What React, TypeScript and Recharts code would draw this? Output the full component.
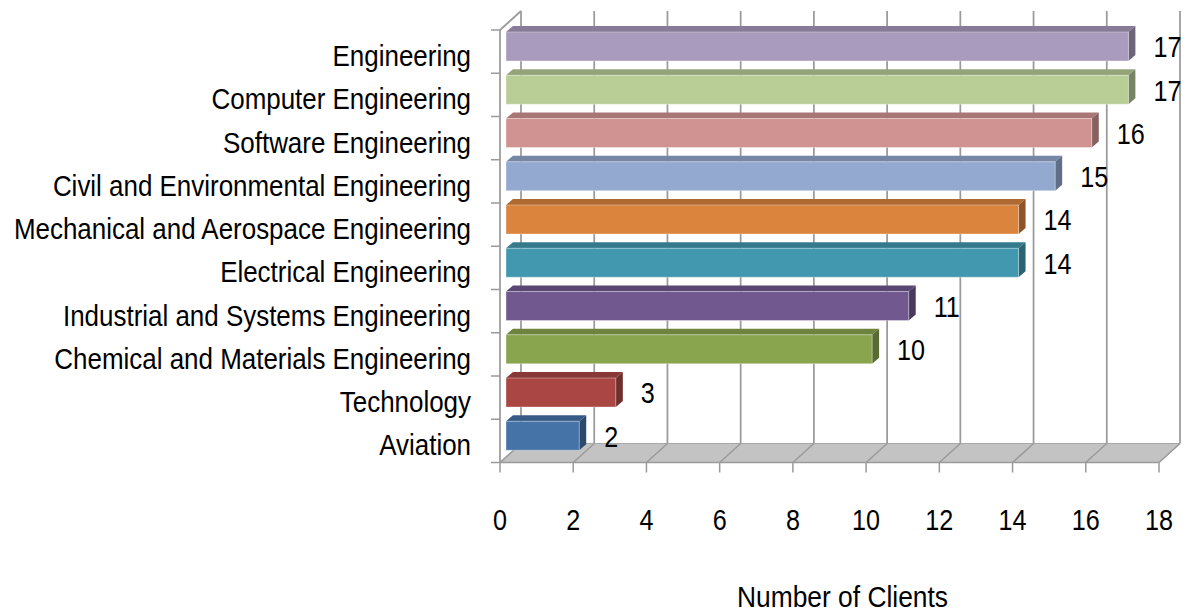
import React from 'react';
import { BarChart, Bar, XAxis, YAxis, ReferenceArea, LabelList } from 'recharts';

const categories = [
  'Engineering',
  'Computer Engineering',
  'Software Engineering',
  'Civil and Environmental Engineering',
  'Mechanical and Aerospace Engineering',
  'Electrical Engineering',
  'Industrial and Systems Engineering',
  'Chemical and Materials Engineering',
  'Technology',
  'Aviation',
];
const clients = [17, 17, 16, 15, 14, 14, 11, 10, 3, 2];
const barColors = [
  '#A99BBD', '#B9CD96', '#D19392', '#93A9CF', '#DB843D',
  '#4198AF', '#71588F', '#89A54E', '#AA4643', '#4572A7',
];
const xTicks = [0, 2, 4, 6, 8, 10, 12, 14, 16, 18];

const data = categories.map((name, i) => ({ name, value: clients[i] }));

const FONT = '"Liberation Sans", Arial, sans-serif';
// 3D depth of the walls/floor, and of the bars inside it
const WALL_DX = 21;
const WALL_DY = -19;
const BAR_FX = 6;
const BAR_FY = -5;
const BAR_DX = 7;
const BAR_DY = -6;
const GRID = '#9a9a9a';

function shade(hex: string, f: number): string {
  const n = parseInt(hex.slice(1), 16);
  const r = Math.round(((n >> 16) & 255) * f);
  const g = Math.round(((n >> 8) & 255) * f);
  const b = Math.round((n & 255) * f);
  return `rgb(${r},${g},${b})`;
}

function Bar3D(props: any) {
  const { x, y, width, height, index } = props;
  const c = barColors[index] || '#888';
  const fx = x + BAR_FX;
  const fy = y + BAR_FY;
  const w = width;
  const h = height;
  return (
    <g>
      <polygon
        points={`${fx},${fy} ${fx + BAR_DX},${fy + BAR_DY} ${fx + w + BAR_DX},${fy + BAR_DY} ${fx + w},${fy}`}
        fill={shade(c, 0.8)}
      />
      <polygon
        points={`${fx + w},${fy} ${fx + w + BAR_DX},${fy + BAR_DY} ${fx + w + BAR_DX},${fy + BAR_DY + h} ${fx + w},${fy + h}`}
        fill={shade(c, 0.65)}
      />
      <rect x={fx} y={fy} width={w} height={h} fill={c} stroke="rgba(255,255,255,.35)" strokeWidth={1} />
    </g>
  );
}

// walls, floor and gridlines, drawn from the rect the x scale gives for 0..18
function Walls(props: any) {
  const { x, y, width, height } = props;
  const bottom = y + height;
  const max = xTicks[xTicks.length - 1];
  const px = (v: number) => x + (width * v) / max;
  return (
    <g>
      <polygon
        points={`${x},${bottom} ${x + width},${bottom} ${x + width + WALL_DX},${bottom + WALL_DY} ${x + WALL_DX},${bottom + WALL_DY}`}
        fill="#C3C3C3"
        stroke="#A8A8A8"
        strokeWidth={1}
      />
      {xTicks.map((v) => (
        <g key={v}>
          <line x1={px(v) + WALL_DX} y1={y + WALL_DY} x2={px(v) + WALL_DX} y2={bottom + WALL_DY} stroke={GRID} strokeWidth={1.75} />
          <line x1={px(v)} y1={bottom} x2={px(v) + WALL_DX} y2={bottom + WALL_DY} stroke={GRID} strokeWidth={1.5} />
          <line x1={px(v)} y1={bottom} x2={px(v)} y2={bottom + 10} stroke={GRID} strokeWidth={1.5} />
        </g>
      ))}
      <line x1={x} y1={y} x2={x} y2={bottom} stroke={GRID} strokeWidth={1.75} />
      <line x1={x} y1={y} x2={x + WALL_DX} y2={y + WALL_DY} stroke={GRID} strokeWidth={1.75} />
      <line x1={x - 9} y1={bottom} x2={x + width} y2={bottom} stroke={GRID} strokeWidth={1.5} />
      {categories.map((_, i) => (
        <line key={i} x1={x - 9} y1={y + (height * i) / categories.length} x2={x} y2={y + (height * i) / categories.length} stroke={GRID} strokeWidth={1.5} />
      ))}
    </g>
  );
}

function CategoryTick({ x, y, payload }: any) {
  return (
    <text
      transform={`translate(${x - 29},${y + 14.4}) scale(0.895,1)`}
      textAnchor="end"
      fontFamily={FONT}
      fontSize={29}
      fill="#000"
    >
      {payload.value}
    </text>
  );
}

function ValueTick({ x, y, payload }: any) {
  return (
    <text
      transform={`translate(${x},${y + 67.5}) scale(0.84,1)`}
      textAnchor="middle"
      fontFamily={FONT}
      fontSize={30}
      fill="#000"
    >
      {payload.value}
    </text>
  );
}

function ValueLabel({ x, y, width, height, value }: any) {
  const lx = x + width + BAR_FX + 25;
  const ly = y + BAR_FY + height / 2 + 10.75;
  return (
    <text transform={`translate(${lx},${ly}) scale(0.84,1)`} fontFamily={FONT} fontSize={30} fill="#000">
      {value}
    </text>
  );
}

function AxisTitle({ viewBox }: any) {
  const { x, y, width } = viewBox;
  return (
    <text
      transform={`translate(${x + width / 2 + 13},${y + 144}) scale(0.91,1)`}
      textAnchor="middle"
      fontFamily={FONT}
      fontSize={29}
      fill="#000"
    >
      Number of Clients
    </text>
  );
}

export default function App() {
  return (
    <div style={{ position: 'absolute', left: 0, top: 0, width: 1192, height: 614, background: '#fff' }}>
      <BarChart
        width={1192}
        height={614}
        data={data}
        layout="vertical"
        margin={{ top: 30, right: 33, bottom: 31.5, left: 0 }}
        barSize={29}
      >
        <XAxis
          type="number"
          domain={[0, 18]}
          ticks={xTicks}
          axisLine={false}
          tickLine={false}
          tickSize={0}
          tickMargin={0}
          height={120}
          tick={<ValueTick />}
          label={{ content: <AxisTitle /> }}
        />
        <YAxis
          type="category"
          dataKey="name"
          width={500}
          axisLine={false}
          tickLine={false}
          tickSize={0}
          tickMargin={0}
          interval={0}
          tick={<CategoryTick />}
        />
        <ReferenceArea x1={0} x2={18} shape={<Walls />} fill="none" stroke="none" />
        <Bar dataKey="value" shape={<Bar3D />} isAnimationActive={false}>
          <LabelList dataKey="value" content={<ValueLabel />} />
        </Bar>
      </BarChart>
    </div>
  );
}
